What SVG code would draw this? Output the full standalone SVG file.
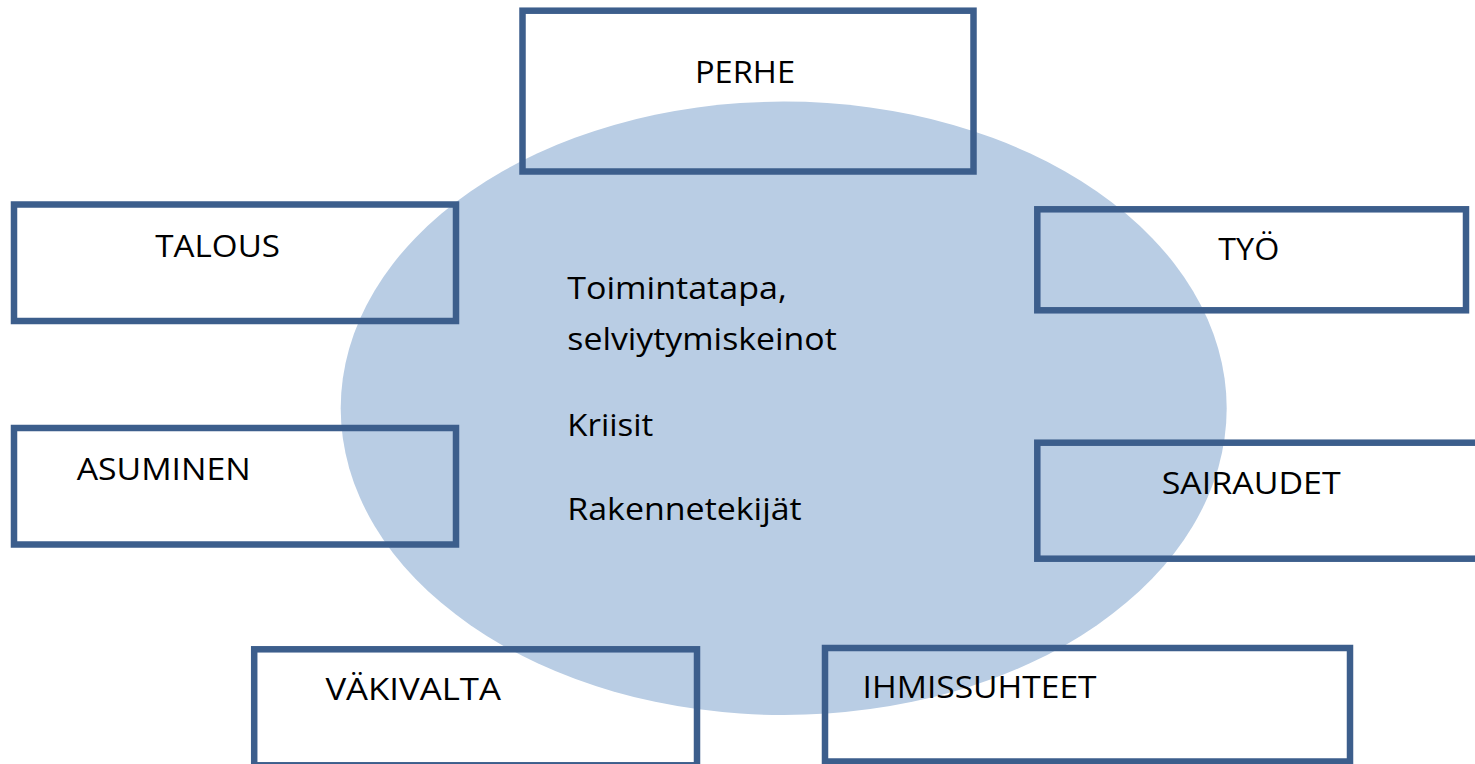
<svg xmlns="http://www.w3.org/2000/svg" width="1475" height="764" viewBox="0 0 1475 764">
<style>
.box{fill:none;stroke:#3c5e8c;stroke-width:6.5}
.t{font-family:"Open Sans","Noto Sans",sans-serif;font-size:31px;fill:#000}
</style>
<rect width="1475" height="764" fill="#fff"/>
<g id="center">
<ellipse cx="783.7" cy="408.3" rx="443" ry="306.7" fill="#b9cde4"/>
<text class="t" x="567.3" y="299.3" textLength="219.4" lengthAdjust="spacingAndGlyphs">Toimintatapa,</text>
<text class="t" x="567.3" y="350" textLength="269.4" lengthAdjust="spacingAndGlyphs">selviytymiskeinot</text>
<text class="t" x="567.3" y="435.7" textLength="86" lengthAdjust="spacingAndGlyphs">Kriisit</text>
<text class="t" x="567.3" y="520" textLength="234.4" lengthAdjust="spacingAndGlyphs">Rakennetekijät</text>
</g>
<g id="perhe">
<rect class="box" x="522.5" y="10.7" width="451" height="160.8"/>
<text class="t" x="695" y="83.3" textLength="100" lengthAdjust="spacingAndGlyphs">PERHE</text>
</g>
<g id="talous">
<rect class="box" x="14" y="204.5" width="442" height="116.5"/>
<text class="t" x="155.3" y="256.7" textLength="124.7" lengthAdjust="spacingAndGlyphs">TALOUS</text>
</g>
<g id="asuminen">
<rect class="box" x="14" y="428" width="442" height="116.5"/>
<text class="t" x="76.7" y="480" textLength="174" lengthAdjust="spacingAndGlyphs">ASUMINEN</text>
</g>
<g id="tyo">
<rect class="box" x="1037.3" y="209.3" width="428.7" height="101"/>
<text class="t" x="1218.3" y="260" textLength="61" lengthAdjust="spacingAndGlyphs">TYÖ</text>
</g>
<g id="sairaudet">
<rect class="box" x="1037.3" y="442.7" width="450" height="116"/>
<text class="t" x="1161.7" y="494" textLength="179" lengthAdjust="spacingAndGlyphs">SAIRAUDET</text>
</g>
<g id="vakivalta">
<rect class="box" x="254.2" y="649.3" width="442.8" height="116"/>
<text class="t" x="325.4" y="700" textLength="175.6" lengthAdjust="spacingAndGlyphs">VÄKIVALTA</text>
</g>
<g id="ihmissuhteet">
<rect class="box" x="825" y="648" width="525" height="113.5"/>
<text class="t" x="862.6" y="698.3" textLength="234" lengthAdjust="spacingAndGlyphs">IHMISSUHTEET</text>
</g>
</svg>
